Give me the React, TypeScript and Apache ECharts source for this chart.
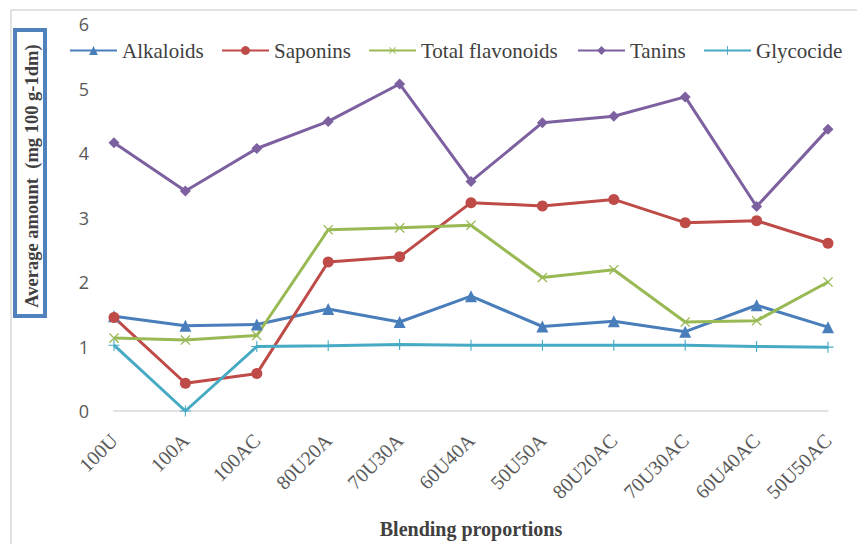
import React, { useEffect, useRef } from "react";
import * as echarts from "echarts";

// Blend codes along the x axis
const categories = [
  "100U", "100A", "100AC", "80U20A", "70U30A", "60U40A",
  "50U50A", "80U20AC", "70U30AC", "60U40AC", "50U50AC",
];

// Average amounts (mg 100 g-1 dm) per blend
const alkaloids = [1.47, 1.32, 1.34, 1.58, 1.38, 1.78, 1.31, 1.39, 1.23, 1.64, 1.3];
const saponins = [1.45, 0.43, 0.58, 2.31, 2.39, 3.23, 3.18, 3.28, 2.92, 2.95, 2.6];
const totalFlavonoids = [1.13, 1.1, 1.17, 2.81, 2.84, 2.88, 2.07, 2.19, 1.38, 1.4, 2.0];
const tanins = [4.16, 3.41, 4.07, 4.49, 5.07, 3.56, 4.47, 4.57, 4.87, 3.17, 4.37];
const glycocide = [1.02, 0.0, 1.0, 1.01, 1.03, 1.02, 1.02, 1.02, 1.02, 1.0, 0.99];

const seriesNames = ["Alkaloids", "Saponins", "Total flavonoids", "Tanins", "Glycocide"];
const yTicks = [0, 1, 2, 3, 4, 5, 6];

const SERIF = "Liberation Serif";
const SANS = "Open Sans";

const PLUS = "path://M9,0H11V9H20V11H11V20H9V11H0V9H9Z";

// Left edge of each legend entry along the top row
const legendLefts = [69, 221, 368, 577, 703];

export default function App() {
  const ref = useRef<HTMLDivElement>(null);

  useEffect(() => {
    document.body.style.margin = "0";
    if (!ref.current) return;
    const chart = echarts.init(ref.current, undefined, { renderer: "svg" });

    const line = (
      name: string,
      data: number[],
      color: string,
      symbol: string,
      symbolSize: number,
      extra: Record<string, unknown> = {}
    ) => ({
      name,
      type: "line",
      data,
      symbol,
      symbolSize,
      showAllSymbol: true,
      lineStyle: { color, width: 3 },
      itemStyle: { color },
      ...extra,
    });

    chart.setOption({
      animation: false,
      backgroundColor: "#ffffff",
      grid: {
        left: 114,
        right: 29,
        top: 24,
        bottom: 133,
        containLabel: false,
        outerBoundsMode: "none",
      },
      legend: seriesNames.map((name, i) => ({
        left: legendLefts[i],
        top: 40,
        padding: 0,
        itemWidth: 47,
        itemHeight: 11,
        textStyle: { fontFamily: SERIF, fontSize: 21, color: "#404040" },
        data: [name],
      })),
      xAxis: {
        type: "category",
        data: categories,
        boundaryGap: false,
        axisLine: { lineStyle: { color: "#D9D9D9", width: 1.5 } },
        axisTick: { show: false },
        axisLabel: {
          rotate: 45,
          margin: 26,
          fontFamily: SERIF,
          fontSize: 20,
          color: "#595959",
          interval: 0,
        },
        name: "Blending proportions",
        nameLocation: "middle",
        nameGap: 108,
        nameTextStyle: {
          fontFamily: SERIF,
          fontSize: 20,
          fontWeight: "bold",
          color: "#404040",
        },
      },
      yAxis: {
        type: "value",
        min: yTicks[0],
        max: yTicks[yTicks.length - 1],
        interval: 1,
        axisLine: { show: false },
        axisTick: { show: false },
        splitLine: { show: false },
        axisLabel: { fontFamily: SANS, fontSize: 18, color: "#595959", margin: 25 },
      },
      graphic: [
        {
          type: "rect",
          shape: { x: 11, y: 10, width: 900, height: 700 },
          style: { fill: "none", stroke: "#D9D9D9", lineWidth: 1.5 },
          silent: true,
        },
        {
          type: "rect",
          shape: { x: 15, y: 30, width: 30, height: 286 },
          style: { fill: "#ffffff", stroke: "#4F81BD", lineWidth: 4 },
          silent: true,
        },
        {
          type: "text",
          x: 32,
          y: 176,
          rotation: Math.PI / 2,
          style: {
            text: "Average amount  (mg 100 g-1dm)",
            fontFamily: SERIF,
            fontSize: 18.5,
            fontWeight: "bold",
            fill: "#404040",
            align: "center",
            verticalAlign: "middle",
          },
          silent: true,
        },
      ],
      series: [
        line(seriesNames[0], alkaloids, "#4A7EBB", "triangle", 12),
        line(seriesNames[1], saponins, "#BE4B48", "circle", 11),
        line(seriesNames[2], totalFlavonoids, "#98B954", PLUS, 13, { symbolRotate: 45 }),
        line(seriesNames[3], tanins, "#7D60A0", "diamond", 11),
        line(seriesNames[4], glycocide, "#46AAC5", PLUS, 11),
      ],
    });

    return () => chart.dispose();
  }, []);

  return <div ref={ref} style={{ width: 857, height: 544 }} />;
}
